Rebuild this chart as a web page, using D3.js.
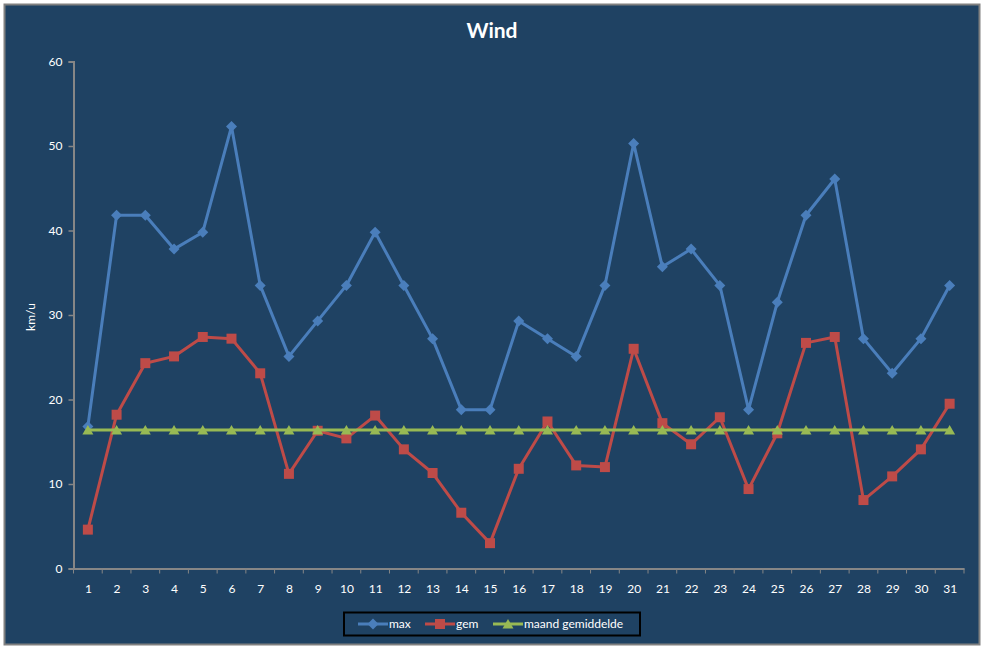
<!DOCTYPE html>
<html>
<head>
<meta charset="utf-8">
<script src="https://d3js.org/d3.v7.min.js"></script>
<style>
  body { margin: 0; background: #fff; }
  text { font-family: Lato, "Open Sans", sans-serif; }
</style>
</head>
<body>
<div id="chart"></div>
<script>
// days of the month
const days = d3.range(1, 32).map(String);

// max wind per day (km/u)
const maxValues = [16.8, 41.8, 41.8, 37.8, 39.8, 52.3, 33.5, 25.1, 29.3, 33.5,
  39.8, 33.5, 27.2, 18.8, 18.8, 29.3, 27.2, 25.1, 33.5, 50.3,
  35.7, 37.8, 33.5, 18.8, 31.5, 41.8, 46.1, 27.2, 23.1, 27.2, 33.5];

// average wind per day (km/u)
const gemValues = [4.6, 18.2, 24.3, 25.1, 27.4, 27.2, 23.1, 11.2, 16.3, 15.4,
  18.1, 14.1, 11.3, 6.6, 3.0, 11.8, 17.4, 12.2, 12.0, 26.0,
  17.2, 14.7, 17.9, 9.4, 16.0, 26.7, 27.4, 8.1, 10.9, 14.1, 19.5];

// month average, same value each day
const maandValues = [16.4, 16.4, 16.4, 16.4, 16.4, 16.4, 16.4, 16.4, 16.4, 16.4,
  16.4, 16.4, 16.4, 16.4, 16.4, 16.4, 16.4, 16.4, 16.4, 16.4,
  16.4, 16.4, 16.4, 16.4, 16.4, 16.4, 16.4, 16.4, 16.4, 16.4, 16.4];

const yTicks = [0, 10, 20, 30, 40, 50, 60];

const width = 987;
const height = 648;
const bg = "#1f4263";
const axisColor = "#868686";

const svg = d3
  .select("#chart")
  .append("svg")
  .attr("width", width)
  .attr("height", height);

// chart area with grey border
svg
  .append("rect")
  .attr("x", 4.5)
  .attr("y", 4.5)
  .attr("width", 975)
  .attr("height", 640)
  .attr("fill", bg)
  .attr("stroke", "#808080")
  .attr("stroke-width", 2);

svg
  .append("text")
  .attr("x", 492)
  .attr("y", 38)
  .attr("text-anchor", "middle")
  .attr("font-size", "21px")
  .attr("font-weight", "bold")
  .attr("fill", "white")
  .text("Wind");

const plot = { left: 73.5, right: 964, top: 61.5, bottom: 568.5 };

const x = d3
  .scalePoint()
  .domain(days)
  .range([plot.left, plot.right])
  .padding(0.5);

const y = d3
  .scaleLinear()
  .domain([0, 60])
  .range([plot.bottom, plot.top]);

// y axis
const yAxis = svg
  .append("g")
  .attr("transform", `translate(${plot.left},0)`)
  .call(d3.axisLeft(y).tickValues(yTicks).tickSize(5).tickPadding(6));

// x axis, ticks between the categories
const step = x.step();
const xAxis = svg
  .append("g")
  .attr("transform", `translate(0,${plot.bottom})`)
  .call(d3.axisBottom(x).tickSize(0).tickPadding(16));

xAxis
  .selectAll(".boundary")
  .data(d3.range(0, 32))
  .enter()
  .append("line")
  .attr("class", "boundary")
  .attr("x1", (i) => plot.left + i * step)
  .attr("x2", (i) => plot.left + i * step)
  .attr("y1", 0)
  .attr("y2", 5)
  .attr("stroke", axisColor);

[yAxis, xAxis].forEach((g) => {
  g.select(".domain").attr("stroke", axisColor).attr("stroke-width", 2);
  g.selectAll(".tick line").attr("stroke", axisColor).attr("stroke-width", 1.5);
  g.selectAll("text")
    .attr("fill", "white")
    .attr("font-size", "12px")
    .attr("font-family", "Lato, sans-serif");
});

svg
  .append("text")
  .attr("transform", "translate(35,317) rotate(-90)")
  .attr("text-anchor", "middle")
  .attr("font-size", "12px")
  .attr("fill", "white")
  .text("km/u");

// marker shapes
const markers = {
  diamond: "M0,-5.5L5.5,0L0,5.5L-5.5,0Z",
  square: "M-5,-5H5V5H-5Z",
  triangle: "M0,-5L5.5,4.5H-5.5Z",
};

const series = [
  { name: "max", values: maxValues, color: "#4a7ebb", marker: "diamond" },
  { name: "gem", values: gemValues, color: "#be4b48", marker: "square" },
  { name: "maand gemiddelde", values: maandValues, color: "#98b954", marker: "triangle" },
];

const line = d3
  .line()
  .x((d, i) => x(days[i]))
  .y((d) => y(d));

series.forEach((s) => {
  svg
    .append("path")
    .datum(s.values)
    .attr("d", line)
    .attr("fill", "none")
    .attr("stroke", s.color)
    .attr("stroke-width", 3)
    .attr("stroke-linejoin", "round");

  svg
    .append("g")
    .selectAll("path")
    .data(s.values)
    .enter()
    .append("path")
    .attr("d", markers[s.marker])
    .attr("transform", (d, i) => `translate(${x(days[i])},${y(d)})`)
    .attr("fill", s.color);
});

// legend
const legend = svg.append("g");
legend
  .append("rect")
  .attr("x", 344)
  .attr("y", 612.5)
  .attr("width", 296)
  .attr("height", 23)
  .attr("fill", bg)
  .attr("stroke", "black")
  .attr("stroke-width", 2);

const legendX = [358, 425, 493];
series.forEach((s, i) => {
  const lx = legendX[i];
  legend
    .append("line")
    .attr("x1", lx)
    .attr("x2", lx + 30)
    .attr("y1", 624)
    .attr("y2", 624)
    .attr("stroke", s.color)
    .attr("stroke-width", 3);
  legend
    .append("path")
    .attr("d", markers[s.marker])
    .attr("transform", `translate(${lx + 15},624)`)
    .attr("fill", s.color);
  legend
    .append("text")
    .attr("x", lx + 31)
    .attr("y", 628)
    .attr("font-size", "12px")
    .attr("fill", "white")
    .text(s.name);
});
</script>
</body>
</html>
